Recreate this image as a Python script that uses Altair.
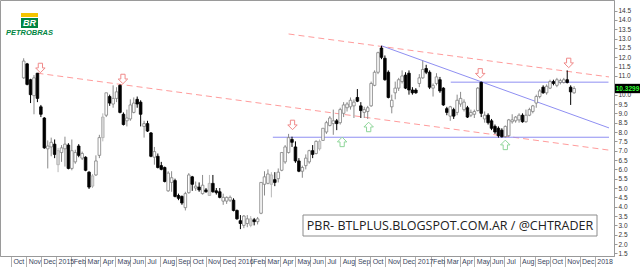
import altair as alt
import pandas as pd

# ---------------- data (weekly candles, PBR) ----------------
first_week = "2014-10-27"
opens = [10.9, 11.65, 10.8, 9.95, 11.15, 9.35, 8.75, 7.1, 7.2, 7.35,
         6.25, 6.9, 7.1, 7.3, 6.05, 6.4, 7.25, 6.6, 6.65, 5.85,
         5.1, 5.7, 6.75, 7.7, 8.9, 9.9, 9.5, 9.8, 10.5, 8.95,
         8.6, 8.7, 9.05, 9.75, 9.6, 8.3, 8.45, 7.95, 6.65, 6.7,
         6.2, 6.1, 4.85, 5.3, 5.4, 4.6, 4.55, 3.95, 4.75, 5.6,
         5.0, 5.05, 4.7, 4.9, 4.6, 5.25, 4.85, 4.8, 4.3, 4.3,
         4.35, 4.35, 3.8, 3.25, 3.0, 3.1, 3.0, 3.3, 3.2, 3.65,
         5.2, 5.25, 5.2, 5.45, 5.5, 5.95, 6.4, 6.9, 7.6, 7.2,
         6.45, 5.9, 6.2, 6.4, 7.0, 6.85, 7.1, 7.55, 8.0, 8.35,
         8.45, 8.6, 8.5, 9.0, 9.3, 9.35, 9.4, 9.85, 9.4, 9.05,
         9.1, 9.4, 10.5, 11.2, 12.5, 11.95, 11.2, 9.35, 10.1, 10.35,
         10.7, 11.05, 11.15, 10.25, 10.25, 10.6, 10.9, 11.4, 11.2, 10.35,
         10.6, 10.8, 10.35, 9.25, 8.85, 9.2, 9.05, 9.5, 9.2, 9.3,
         8.9, 8.95, 9.15, 10.66, 8.7, 8.9, 8.6, 8.3, 8.2, 8.1,
         7.75, 7.8, 8.55, 8.6, 8.65, 8.9, 8.55, 8.9, 9.1, 9.55,
         9.9, 10.4, 10.1, 10.35, 10.7, 10.5, 10.65, 10.65, 10.8, 10.4,
         10.1]
highs = [11.95, 11.7, 10.85, 11.05, 11.15, 9.45, 8.8, 7.55, 7.7, 7.6,
         7.15, 7.3, 7.75, 7.4, 7.6, 7.05, 7.35, 6.95, 6.7, 5.9,
         5.75, 6.75, 7.85, 9.0, 10.1, 10.0, 10.5, 10.4, 10.55, 9.05,
         9.2, 9.75, 9.85, 9.9, 9.7, 8.6, 8.6, 8.0, 7.2, 6.85,
         6.4, 6.15, 5.9, 5.9, 5.5, 4.7, 4.6, 4.8, 5.8, 5.65,
         5.35, 5.3, 5.7, 5.0, 5.7, 5.7, 5.0, 5.0, 4.7, 4.55,
         4.6, 4.45, 3.85, 3.55, 3.55, 3.55, 3.5, 3.4, 3.45, 5.3,
         5.9, 6.0, 5.85, 5.85, 6.05, 6.9, 7.3, 7.9, 7.75, 7.5,
         6.6, 6.2, 6.8, 7.05, 7.3, 7.55, 7.6, 8.2, 8.6, 8.85,
         9.2, 8.7, 9.3, 9.6, 9.6, 9.85, 9.75, 10.3, 9.6, 9.35,
         9.4, 10.7, 11.3, 12.3, 12.62, 12.1, 11.3, 10.0, 10.7, 10.9,
         11.3, 11.2, 11.3, 10.4, 10.35, 11.1, 11.82, 11.6, 11.3, 10.6,
         11.15, 10.95, 10.4, 9.35, 9.4, 9.3, 10.0, 10.15, 9.75, 9.4,
         9.2, 9.2, 10.4, 10.7, 9.1, 9.0, 8.7, 8.4, 8.3, 8.2,
         8.35, 8.7, 8.95, 8.85, 9.0, 9.0, 9.2, 9.3, 9.45, 10.0,
         10.3, 10.5, 10.55, 10.8, 10.8, 10.9, 10.85, 10.9, 11.3, 10.5,
         10.45]
lows = [10.85, 10.5, 9.55, 8.95, 9.6, 8.8, 7.1, 6.05, 6.7, 6.6,
        5.85, 6.4, 6.15, 6.0, 5.95, 6.3, 6.65, 6.5, 5.9, 4.95,
        5.0, 5.65, 6.6, 7.5, 8.8, 9.4, 9.3, 9.6, 9.0, 8.35,
        8.3, 8.6, 9.0, 9.3, 8.3, 7.7, 8.0, 6.65, 6.25, 6.05,
        5.95, 5.3, 4.8, 4.8, 4.5, 4.35, 4.1, 3.8, 4.7, 4.85,
        4.85, 4.8, 4.65, 4.75, 4.6, 4.75, 4.65, 4.45, 4.1, 4.15,
        4.25, 3.75, 3.3, 2.8, 2.85, 2.9, 2.9, 3.0, 3.05, 3.6,
        4.6, 5.2, 4.5, 5.1, 5.3, 5.9, 6.3, 6.85, 7.2, 6.35,
        5.85, 5.55, 6.0, 6.3, 6.6, 6.8, 7.0, 7.55, 7.9, 8.3,
        7.85, 8.1, 8.4, 8.8, 9.1, 9.2, 8.75, 9.6, 8.75, 8.75,
        8.7, 9.35, 10.45, 11.1, 11.9, 10.75, 9.8, 9.0, 9.75, 10.2,
        10.6, 10.3, 10.0, 10.0, 10.05, 10.4, 10.85, 11.1, 10.3, 9.9,
        10.5, 10.1, 9.4, 8.9, 8.6, 8.7, 8.9, 9.35, 9.1, 8.75,
        8.8, 8.75, 9.1, 8.8, 8.5, 8.4, 8.1, 7.9, 7.7, 7.7,
        7.7, 7.75, 8.45, 8.5, 8.5, 8.5, 8.5, 8.85, 9.0, 9.3,
        9.8, 10.05, 10.0, 10.3, 10.5, 10.4, 10.55, 10.6, 10.6, 9.45,
        10.05]
closes = [11.8, 10.55, 10.0, 10.9, 9.8, 8.95, 7.15, 7.25, 7.45, 6.8,
          7.0, 7.15, 7.35, 6.05, 7.0, 6.9, 6.75, 6.85, 5.95, 5.05,
          5.65, 6.45, 7.7, 8.8, 10.1, 9.55, 9.8, 10.15, 9.05, 8.4,
          8.75, 9.45, 9.55, 9.5, 8.95, 8.45, 8.05, 6.7, 6.95, 6.1,
          6.0, 5.35, 5.8, 5.55, 4.55, 4.45, 4.2, 4.7, 5.7, 5.2,
          5.1, 4.9, 5.15, 4.8, 5.25, 4.8, 4.75, 4.5, 4.5, 4.5,
          4.5, 3.8, 3.35, 3.1, 3.5, 3.35, 3.35, 3.2, 3.35, 5.3,
          5.6, 5.75, 5.7, 5.3, 5.85, 6.9, 7.2, 7.7, 7.45, 6.45,
          5.9, 6.1, 6.6, 7.0, 6.8, 7.5, 7.5, 8.2, 8.5, 8.75,
          8.6, 8.45, 9.2, 9.45, 9.5, 9.7, 9.6, 9.65, 9.15, 9.2,
          9.3, 10.6, 11.2, 12.25, 12.0, 10.8, 9.85, 9.7, 10.35, 10.8,
          11.0, 10.35, 10.25, 10.1, 10.1, 10.9, 11.35, 11.2, 10.4, 10.5,
          10.95, 10.2, 9.45, 9.05, 9.35, 8.85, 9.7, 9.8, 9.6, 8.8,
          9.05, 9.1, 10.35, 9.0, 8.9, 8.5, 8.2, 8.0, 7.8, 7.75,
          8.3, 8.65, 8.65, 8.8, 8.9, 8.55, 8.9, 9.2, 9.4, 9.9,
          10.2, 10.1, 10.45, 10.7, 10.6, 10.8, 10.75, 10.8, 10.65, 10.15,
          10.33]
kinds = ["w", "b", "b", "w", "b", "b", "b", "w", "w", "b",
         "g", "w", "w", "b", "w", "w", "b", "w", "b", "b",
         "g", "w", "w", "g", "w", "b", "w", "w", "b", "b",
         "w", "w", "w", "b", "b", "w", "b", "b", "w", "b",
         "b", "b", "w", "w", "b", "b", "b", "w", "w", "b",
         "w", "b", "w", "b", "g", "b", "b", "b", "w", "w",
         "w", "b", "b", "b", "w", "w", "g", "b", "w", "w",
         "w", "w", "g", "b", "w", "w", "w", "w", "b", "b",
         "b", "w", "w", "w", "b", "w", "g", "w", "w", "w",
         "w", "b", "w", "w", "w", "w", "w", "b", "b", "w",
         "w", "w", "w", "w", "b", "b", "b", "w", "w", "w",
         "w", "b", "b", "b", "b", "w", "w", "b", "b", "w",
         "w", "b", "b", "b", "w", "b", "w", "w", "w", "b",
         "w", "w", "w", "b", "w", "b", "b", "b", "b", "b",
         "w", "w", "w", "w", "w", "b", "w", "w", "w", "w",
         "w", "b", "w", "w", "b", "w", "w", "w", "b", "b",
         "w"]

# trend lines (start / end points)
line_ids = ["a", "a", "b", "b", "c", "c", "d", "d", "e", "e"]
line_dates = ["2014-11-24", "2018-01-30", "2016-04-18", "2018-01-30",
              "2016-03-17", "2018-01-30", "2017-03-14", "2018-01-29",
              "2016-10-24", "2018-01-30"]
line_prices = [11.15, 7.03, 13.25, 10.95, 7.72, 7.72, 10.67, 10.67, 12.62, 8.22]
line_style = ["red", "red", "red", "red", "blue", "blue", "blue", "blue", "blue", "blue"]

down_dates = ["2014-11-30", "2015-05-17", "2016-04-26", "2017-05-13", "2017-11-09"]
down_prices = [11.43, 10.84, 8.38, 11.14, 11.7]
up_dates = ["2016-08-05", "2016-09-28", "2017-07-03"]
up_prices = [7.47, 8.27, 7.31]

# 10.5 is hidden under the last-price tag in the reference
y_ticks = [1.5, 2.0, 2.5, 3.0, 3.5, 4.0, 4.5, 5.0, 5.5, 6.0, 6.5, 7.0, 7.5,
           8.0, 8.5, 9.0, 9.5, 10.0, 11.0, 11.5, 12.0, 12.5, 13.0,
           13.5, 14.0, 14.5]
# month ticks shown on the time axis: first and last month
first_tick_month = "2014-10-01"
last_tick_month = "2018-01-01"
last_price = 10.3299
watermark = "PBR- BTLPLUS.BLOGSPOT.COM.AR / @CHTRADER"

# ---------------- tables ----------------
dates = pd.date_range(first_week, periods=len(opens), freq="7D").strftime("%Y-%m-%d")
candles = pd.DataFrame({"date": list(dates), "open": opens, "high": highs,
                        "low": lows, "close": closes, "kind": kinds})
lines = pd.DataFrame({"date": line_dates, "price": line_prices,
                      "line": line_ids, "style": line_style})
downs = pd.DataFrame({"date": down_dates, "price": down_prices})
ups = pd.DataFrame({"date": up_dates, "price": up_prices})
tag = pd.DataFrame({"price": [last_price], "top": [last_price + 0.25],
                    "bot": [last_price - 0.25],
                    "label": [f"{last_price:.4f}"]})
one = pd.DataFrame({"a": [0]})

month_ticks = [alt.DateTime(year=int(d.year), month=int(d.month), date=1, utc=True)
               for d in pd.date_range(first_tick_month, last_tick_month, freq="MS")]

# ---------------- scales / axes ----------------
xscale = alt.Scale(type="utc", nice=False,
                   domain=[alt.DateTime(year=2014, month=9, date=19, utc=True),
                           alt.DateTime(year=2018, month=1, date=30, utc=True)])
xaxis = alt.Axis(values=month_ticks,
                 labelExpr="utcFormat(datum.value, '%m') == '01' ? utcFormat(datum.value, '%Y') : utcFormat(datum.value, '%b')",
                 labelAlign="left", labelOffset=2, labelBaseline="middle",
                 labelPadding=-5.5, tickSize=11, labelFontSize=7,
                 labelFont="Liberation Sans", labelColor="#3a4660",
                 labelOverlap=False, labelFlush=False, grid=False,
                 domainColor="#999999", tickColor="#b0b0b0", title=None, zindex=0)
yscale = alt.Scale(domain=[1.36, 15.07], nice=False, zero=False)
yaxis = alt.Axis(orient="right", values=y_ticks, format=".1f", labelFontSize=6.5,
                 labelFont="Liberation Sans", labelColor="#333333", tickSize=3,
                 labelPadding=1, domainColor="#999999", tickColor="#999999",
                 grid=False, title=None, zindex=0)


def X(field):
    return alt.X(f"{field}:T", scale=xscale, axis=xaxis, title=None)


def Y(field):
    return alt.Y(f"{field}:Q", scale=yscale, axis=yaxis, title=None)


kind_dom = ["w", "b", "g"]

trend_red = alt.Chart(lines).transform_filter("datum.style == 'red'").mark_line(
    color="#ff9c9c", strokeWidth=1, strokeDash=[6, 4]).encode(
    x=X("date"), y=Y("price"), detail="line:N")
trend_blue = alt.Chart(lines).transform_filter("datum.style == 'blue'").mark_line(
    color="#8f8ff2", strokeWidth=1).encode(
    x=X("date"), y=Y("price"), detail="line:N")

wicks = alt.Chart(candles).mark_rule(strokeWidth=1).encode(
    x=X("date"), y=Y("low"), y2="high:Q",
    color=alt.Color("kind:N", scale=alt.Scale(domain=kind_dom,
                    range=["#8a8a8a", "#000000", "#b8b8b8"]), legend=None))
bodies = alt.Chart(candles).mark_bar(width=2.6, strokeWidth=0.8).encode(
    x=X("date"), y=Y("open"), y2="close:Q",
    fill=alt.Fill("kind:N", scale=alt.Scale(domain=kind_dom,
                  range=["#ffffff", "#000000", "#d4d4d4"]), legend=None),
    stroke=alt.Stroke("kind:N", scale=alt.Scale(domain=kind_dom,
                      range=["#808080", "#000000", "#b0b0b0"]), legend=None))

down_shape = "M-0.45,-1 L0.45,-1 L0.45,0 L1,0 L0,1 L-1,0 L-0.45,0 Z"
up_shape = "M-0.45,1 L0.45,1 L0.45,0 L1,0 L0,-1 L-1,0 L-0.45,0 Z"
down_arrows = alt.Chart(downs).mark_point(
    shape=down_shape, size=90, filled=True, fill="white",
    stroke="#f08a8a", strokeWidth=1, opacity=1).encode(x=X("date"), y=Y("price"))
up_arrows = alt.Chart(ups).mark_point(
    shape=up_shape, size=90, filled=True, fill="white",
    stroke="#8fd69a", strokeWidth=1, opacity=1).encode(x=X("date"), y=Y("price"))

tag_box = alt.Chart(tag).mark_rect(color="#000000").encode(
    x=alt.value(615), x2=alt.value(640), y=Y("top"), y2="bot:Q")
tag_text = alt.Chart(tag).mark_text(
    color="#33ff33", fontSize=6.5, font="Liberation Sans", fontWeight="bold",
    align="center", baseline="middle").encode(
    x=alt.value(627.5), y=Y("price"), text="label:N")

wm_box = alt.Chart(one).mark_rect(fill="white", stroke="#8c8c8c", strokeWidth=1).encode(
    x=alt.value(303), x2=alt.value(597), y=alt.value(215), y2=alt.value(236))
wm_text = alt.Chart(one).mark_text(
    text=watermark, font="Open Sans", fontSize=12.5, color="#222222",
    align="center", baseline="middle").encode(x=alt.value(450), y=alt.value(226))

logo_y = alt.Chart(one).mark_rect(color="#f5c400").encode(
    x=alt.value(21), x2=alt.value(38), y=alt.value(13), y2=alt.value(17))
logo_g = alt.Chart(one).mark_rect(color="#008542").encode(
    x=alt.value(21), x2=alt.value(38), y=alt.value(18), y2=alt.value(28))
logo_br = alt.Chart(one).mark_text(
    text="BR", color="white", fontSize=9, fontWeight="bold", fontStyle="italic",
    font="Liberation Sans", align="center", baseline="middle").encode(
    x=alt.value(29.5), y=alt.value(23.2))
logo_name = alt.Chart(one).mark_text(
    text="PETROBRAS", color="#008542", fontSize=7.5, fontWeight="bold", fontStyle="italic",
    font="Liberation Sans", align="center", baseline="middle").encode(
    x=alt.value(29.5), y=alt.value(33.2))

chart = alt.layer(
    trend_red, trend_blue, wicks, bodies, down_arrows, up_arrows,
    tag_box, tag_text, wm_box, wm_text, logo_y, logo_g, logo_br, logo_name
).properties(
    width=614, height=256, autosize="none",
    padding={"left": 0, "top": 0, "right": 26, "bottom": 11},
    background="white"
).configure_view(stroke="#9a9a9a", strokeWidth=1)

chart.save("out.html", embed_options={"renderer": "svg", "actions": False})
